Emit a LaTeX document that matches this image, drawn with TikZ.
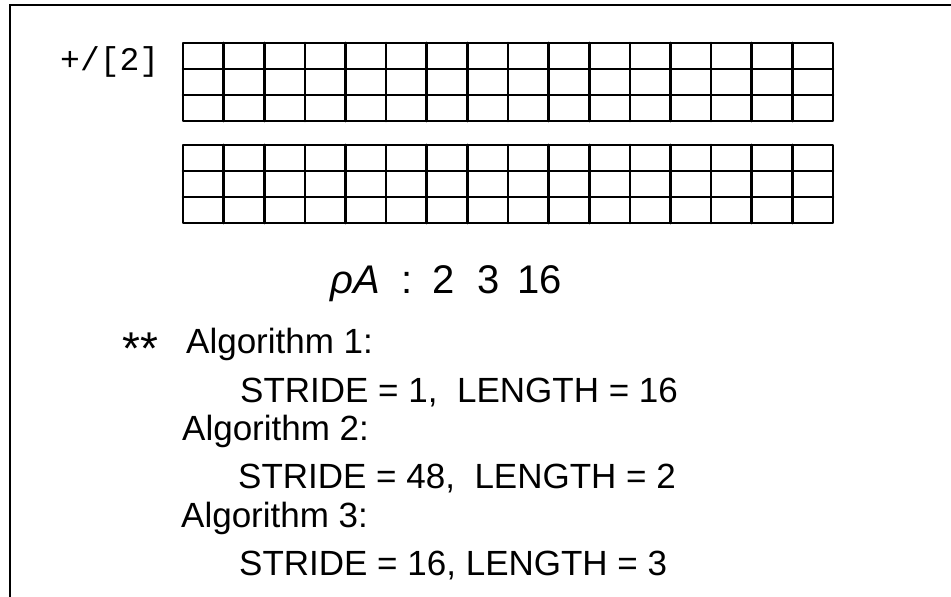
\documentclass[tikz,border=0pt]{standalone}
\usepackage{fontspec}
\setmainfont{Liberation Sans}
\setmonofont{Liberation Mono}

\tikzset{
  cellgrid/.style={line width=2.6pt, line join=round, line cap=round},
  frameline/.style={line width=2pt},
  txtline/.style={anchor=base west, inner sep=0pt, font=\fontsize{35}{40}\selectfont},
}

\begin{document}
\begin{tikzpicture}[x=1pt,y=-1pt]
  \useasboundingbox (0,0) rectangle (951,597);

  % Outer frame (cut off at right and bottom)
  \draw[frameline] (10,597) -- (10,5) -- (951,5);

  % Two planes of 3 x 16 cells
  \foreach \ytop in {43,145} {
    \draw[cellgrid] (183,\ytop) rectangle (833,\ytop+78);
    \foreach \c in {1,...,15}
      \draw[cellgrid] (183+\c*40.625,\ytop) -- ++(0,78);
    \foreach \r in {1,2}
      \draw[cellgrid] (183,\ytop+\r*26) -- ++(650,0);
  }

  % Reduction label
  \node[anchor=base west, inner sep=0pt, font=\ttfamily\fontsize{33}{36}\selectfont] (reduce) at (60,70) {+/[2]};

  % Shape
  \node[anchor=base west, inner sep=0pt, font=\fontsize{40}{44}\selectfont] (shape) at (330,293)
    {{\itshape ρA}\hspace{22pt}:\hspace{20pt}2\hspace{22pt}3\hspace{18pt}16};

  % Algorithms
  \node[anchor=base west, inner sep=0pt, font=\fontsize{46}{50}\selectfont] (stars) at (122,364) {**};
  \node[txtline] (alg1) at (186,353) {Algorithm 1:};
  \node[txtline] (stride1) at (240,402) {STRIDE = 1,\ \ LENGTH = 16};
  \node[txtline] (alg2) at (182,440) {Algorithm 2:};
  \node[txtline] (stride2) at (238,488) {STRIDE = 48,\ \ LENGTH = 2};
  \node[txtline] (alg3) at (181,527) {Algorithm 3:};
  \node[txtline] (stride3) at (239,575) {STRIDE = 16, LENGTH = 3};
\end{tikzpicture}
\end{document}
